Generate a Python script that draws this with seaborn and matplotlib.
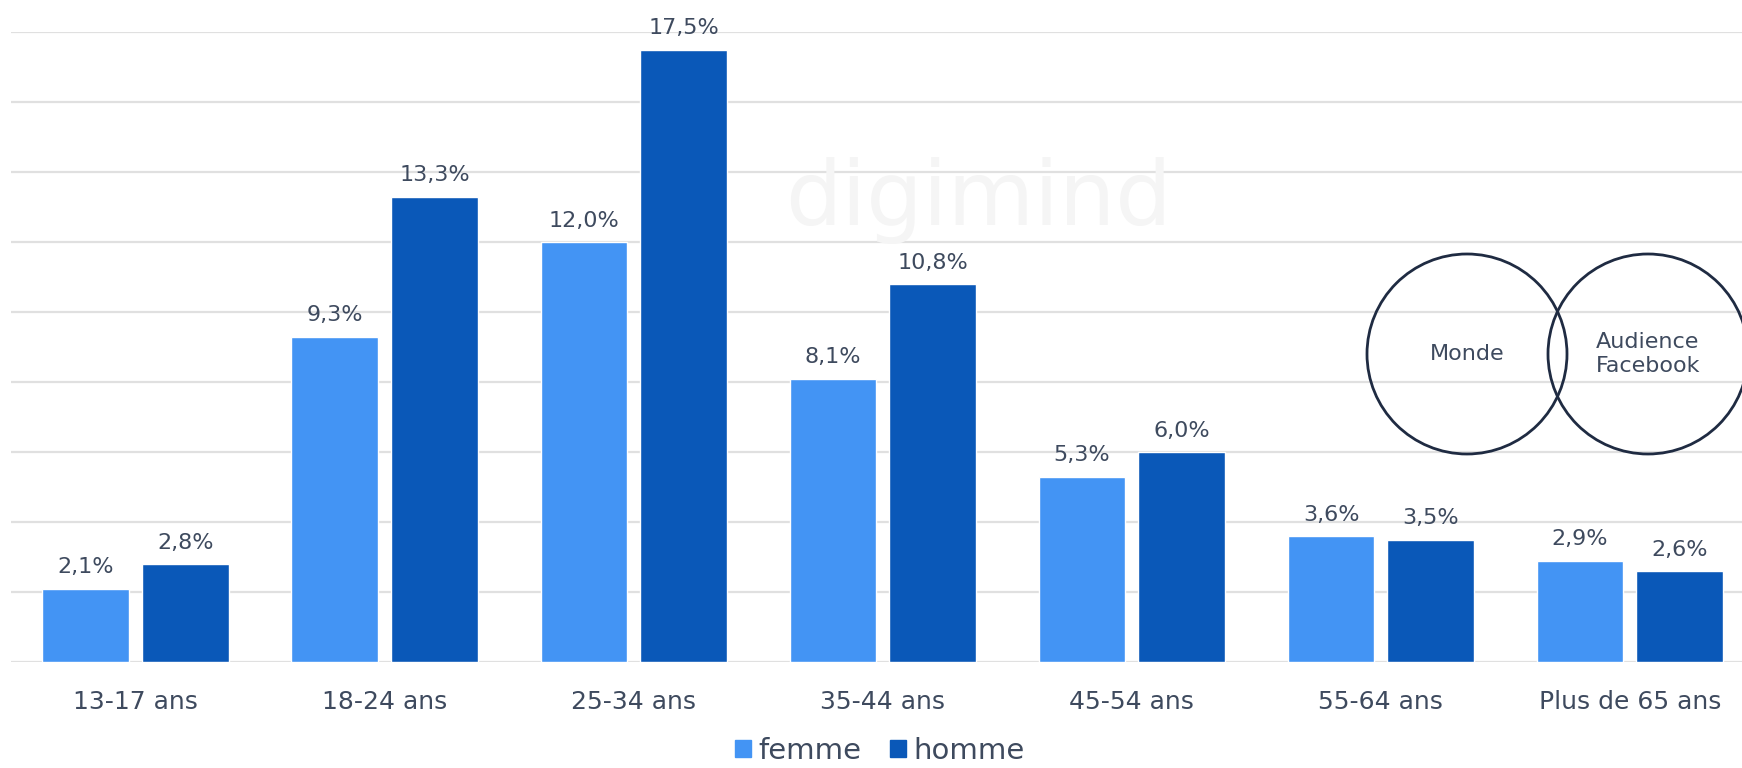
import pandas as pd
import matplotlib
matplotlib.use("Agg")
import matplotlib.pyplot as plt
from matplotlib.patches import Ellipse, Patch
import seaborn as sns

# données
categories = ["13-17 ans", "18-24 ans", "25-34 ans", "35-44 ans", "45-54 ans", "55-64 ans", "Plus de 65 ans"]
femme = [2.1, 9.3, 12.0, 8.1, 5.3, 3.6, 2.9]
homme = [2.8, 13.3, 17.5, 10.8, 6.0, 3.5, 2.6]
series = ["femme", "homme"]
colors = ["#4394F4", "#0A58B8"]
text_color = "#3E4A5E"

df = pd.DataFrame({
    "age": categories * 2,
    "part": femme + homme,
    "sexe": ["femme"] * len(categories) + ["homme"] * len(categories),
})

sns.set_theme(style="white")
plt.rcParams['font.family'] = ['DejaVu Sans']

W, H = 1742, 768
fig = plt.figure(figsize=(W / 100, H / 100), dpi=100)
ax = fig.add_axes([11 / W, 1 - 662 / H, 1 - 11 / W, (662 - 32) / H])

# filigrane
fig.text(978 / W, 1 - 200 / H, "digimind", fontsize=64, color="#F5F5F5",
         ha="center", va="center", zorder=0)

sns.barplot(data=df, x="age", y="part", hue="sexe", palette=colors, saturation=1,
            width=0.8, gap=0.13, ax=ax, zorder=3, legend=False, errorbar=None)

for cont in ax.containers:
    labels = [f"{b.get_height():.1f}".replace(".", ",") + "%" for b in cont]
    ax.bar_label(cont, labels=labels, padding=8, fontsize=16, color=text_color)

ax.set_ylim(0, 18)
ax.set_xlim(-0.5, 6.45)
ax.set_yticks(range(0, 19, 2))
ax.yaxis.grid(True, color="#E0E0E0", linewidth=1.6, zorder=0)
ax.set_axisbelow(True)
ax.tick_params(axis="y", left=False, labelleft=False)
ax.tick_params(axis="x", bottom=False, pad=14, labelsize=18, labelcolor=text_color)
ax.set_xlabel("")
ax.set_ylabel("")
for s in ax.spines.values():
    s.set_visible(False)
ax.patch.set_alpha(0)

# diagramme de Venn Monde / Audience Facebook
r = 100
for cx, label in [(1467, "Monde"), (1648, "Audience\nFacebook")]:
    fig.patches.append(Ellipse((cx / W, 1 - 354 / H), 2 * r / W, 2 * r / H,
                               transform=fig.transFigure, fill=False,
                               edgecolor="#1F2B42", linewidth=2))
    fig.text(cx / W, 1 - 354 / H, label, ha="center", va="center",
             fontsize=16, color=text_color, linespacing=1.25)

handles = [Patch(color=c, label=s) for c, s in zip(colors, series)]
fig.legend(handles=handles, loc="lower center", bbox_to_anchor=(0.505, -0.03),
           ncol=2, frameon=False, fontsize=21, handlelength=0.55, handleheight=0.55,
           handletextpad=0.25, columnspacing=1.0, labelcolor=text_color)

fig.savefig("out.png", dpi=100)
